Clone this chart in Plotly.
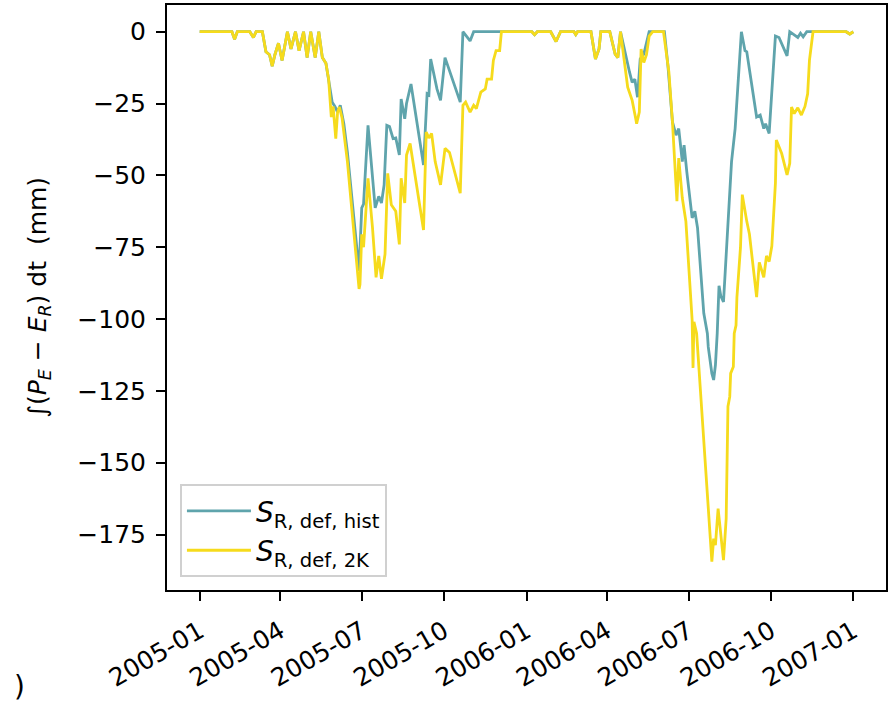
import pandas as pd
import plotly.graph_objects as go

START = pd.Timestamp("2005-01-01")

# Cumulative deficit (mm), breakpoints given as days since 2005-01-01.
# Stretches where both scenarios coincide are stored once.
common_a_day = [0, 36, 39, 42, 56, 60, 63, 70, 74, 78, 81, 84, 88, 92, 98, 102,
                107, 111, 116, 120, 124, 129, 133, 137, 141, 144]
common_a_val = [0, 0, -2.6, 0, 0, -2, 0, 0, -7, -8, -12, -8, -4, -10, 0, -6,
                0, -6.6, 0, -9, 0, -9, 0, -9, -11, -16.5]

hist_b_day = [148, 151, 154, 157, 161, 165, 170, 174, 178, 181, 183, 188, 196,
              200, 203, 206, 209, 212, 216, 219, 223, 225, 229, 231, 236, 250,
              254, 256, 258, 265, 269, 274, 291, 294, 302, 306]
hist_b_val = [-24.5, -26, -28, -25.6, -32, -42, -58, -70, -83.2, -61.3, -60,
              -32.6, -61.3, -57.3, -59.6, -53.3, -32.6, -33, -37.2, -37, -42.9,
              -23.4, -30.3, -25, -18.2, -46.4, -21.6, -22, -9.5, -19.9, -23.9,
              -9, -24.5, 0, -3.2, 0]

k2_b_day = [147, 149, 152, 154, 156, 159, 165, 170, 174, 178, 179, 181, 183,
            188, 193, 197, 200, 203, 207, 210, 214, 219, 223, 225, 229, 231,
            235, 244, 250, 253, 256, 259, 263, 269, 274, 279, 291, 294, 297,
            302, 306, 309, 314, 319, 321, 326, 328, 331, 335]
k2_b_val = [-29.7, -26, -37.2, -28, -26.2, -30, -45.2, -61.3, -75.1, -89.5,
            -88, -70.5, -75, -51, -68.2, -85.5, -78, -86, -77.4, -49.3, -60.2,
            -62.5, -74, -51, -59.6, -42.9, -38.9, -57.9, -69, -34.9, -37,
            -35.4, -45.2, -53.3, -40.6, -42, -56.2, -25.6, -24.5, -28, -25.6,
            -26.8, -21, -19.9, -16.5, -16.5, -10, -6.6, -6.6]

common_c_day = [337, 371, 374, 377, 392, 398, 403, 418, 420, 422, 437, 442,
                446, 448, 458, 464, 467, 470]
common_c_val = [0, 0, -1, 0, 0, -3.4, 0, 0, -1, 0, 0, -9.5,
                -6, 0, 0, -7.8, -9, 0]

hist_d_day = [480, 483, 486, 489, 492, 496, 502, 519, 523, 528, 532, 535, 539,
              541, 544, 550, 553, 556, 563, 567, 568, 572, 574, 576, 578, 580,
              582, 585, 587, 591, 594, 598, 602, 605, 609, 611, 622, 626, 630,
              632, 636, 641, 643, 647, 656, 659, 663, 668, 671, 674, 678]
hist_d_val = [-14, -17.6, -16.5, -22.8, -9.5, -7.8, 0, 0, -12, -31.4, -36,
              -33.7, -45.2, -39.5, -48.7, -64.8, -62.5, -68.2, -98, -105,
              -109.7, -118.9, -121.2, -116, -105, -88.4, -92, -94, -83.2, -59,
              -45.2, -33.7, -11.8, 0, -6.6, -7, -29.7, -29, -33.7, -32, -35.4,
              -11.3, -1.5, -2, -8.4, 0, -1, -2, -0.5, -1.8, 0]

k2_d_day = [478, 483, 487, 488, 491, 493, 496, 499, 502, 506, 518, 524, 528,
            532, 533, 535, 539, 543, 548, 550, 551, 552, 555, 561, 566, 567,
            570, 572, 574, 576, 579, 582, 585, 588, 590, 592, 593, 596, 597,
            599, 600, 604, 606, 611, 614, 622, 625, 630, 633, 636, 639, 643,
            644, 650, 656, 659, 661, 664, 668, 672, 676, 679, 681, 685]
k2_d_val = [-19.3, -23.9, -30.3, -32, -28, -6, -10.7, -8, -1.5, 0, 0, -14,
            -31.4, -51, -59, -44, -57.9, -66, -93.5, -100.4, -117, -101, -105,
            -133.8, -158, -160, -174, -184.4, -176.4, -178.7, -166, -174,
            -183.9, -169.5, -130.4, -127, -118.9, -116.6, -105, -102.2, -92.4,
            -75, -56.7, -66, -70.5, -92.4, -80.3, -85.5, -78, -80, -74.6,
            -52.7, -37.7, -42.4, -49.8, -45.8, -26.2, -28.5, -26.5, -29, -26,
            -21.6, -10, 0]

common_e_day = [722, 726, 730]
common_e_val = [0, -0.8, 0]

hist_day = common_a_day + hist_b_day + common_c_day + hist_d_day + common_e_day
hist_val = common_a_val + hist_b_val + common_c_val + hist_d_val + common_e_val
k2_day = common_a_day + k2_b_day + common_c_day + k2_d_day + common_e_day
k2_val = common_a_val + k2_b_val + common_c_val + k2_d_val + common_e_val

y_ticks = [-175, -150, -125, -100, -75, -50, -25, 0]

TEAL = "#5fa4ac"
YELLOW = "#f6db1c"
FONT = "DejaVu Sans"


def to_dates(days):
    return START + pd.to_timedelta(days, unit="D")


fig = go.Figure()
fig.add_trace(go.Scatter(
    x=to_dates(hist_day), y=hist_val, mode="lines",
    line=dict(color=TEAL, width=2.8),
    name="<i>S</i><sub>R, def, hist</sub>",
))
fig.add_trace(go.Scatter(
    x=to_dates(k2_day), y=k2_val, mode="lines",
    line=dict(color=YELLOW, width=2.8),
    name="<i>S</i><sub>R, def, 2K</sub>",
))

axis_common = dict(
    showline=True, linecolor="black", linewidth=2, mirror=True,
    ticks="outside", ticklen=9, tickwidth=2, tickcolor="black",
    showgrid=False, zeroline=False,
    tickfont=dict(family=FONT, size=25, color="black"),
)

fig.update_layout(
    width=891, height=706,
    margin=dict(l=167, r=3, t=4, b=116),
    paper_bgcolor="white", plot_bgcolor="white",
    font=dict(family=FONT, color="black"),
    showlegend=True,
    legend=dict(
        x=0.018, y=0.022, xanchor="left", yanchor="bottom",
        bgcolor="white", bordercolor="#d0d0d0", borderwidth=2,
        font=dict(family=FONT, size=28, color="black"),
        itemwidth=64, tracegroupgap=2,
    ),
    xaxis=dict(
        range=["2004-11-25 12:00", "2007-02-06 12:00"],
        type="date", tick0="2005-01-01", dtick="M3", tickformat="%Y-%m",
        tickangle=-30, ticklabelstandoff=6, **axis_common,
    ),
    yaxis=dict(
        range=[-194.3, 9.3], tickvals=y_ticks, ticklabelstandoff=5,
        title=dict(
            text="∫(<i>P</i><sub><i>E</i></sub> − <i>E</i><sub><i>R</i></sub>) dt  (mm)",
            font=dict(family=FONT, size=25, color="black"),
            standoff=24,
        ),
        **axis_common,
    ),
    annotations=[dict(
        text=")", xref="paper", yref="paper", x=-0.205, y=-0.165,
        xanchor="center", yanchor="middle", showarrow=False,
        font=dict(family=FONT, size=28, color="black"),
    )],
)

fig.write_html("out.html")
